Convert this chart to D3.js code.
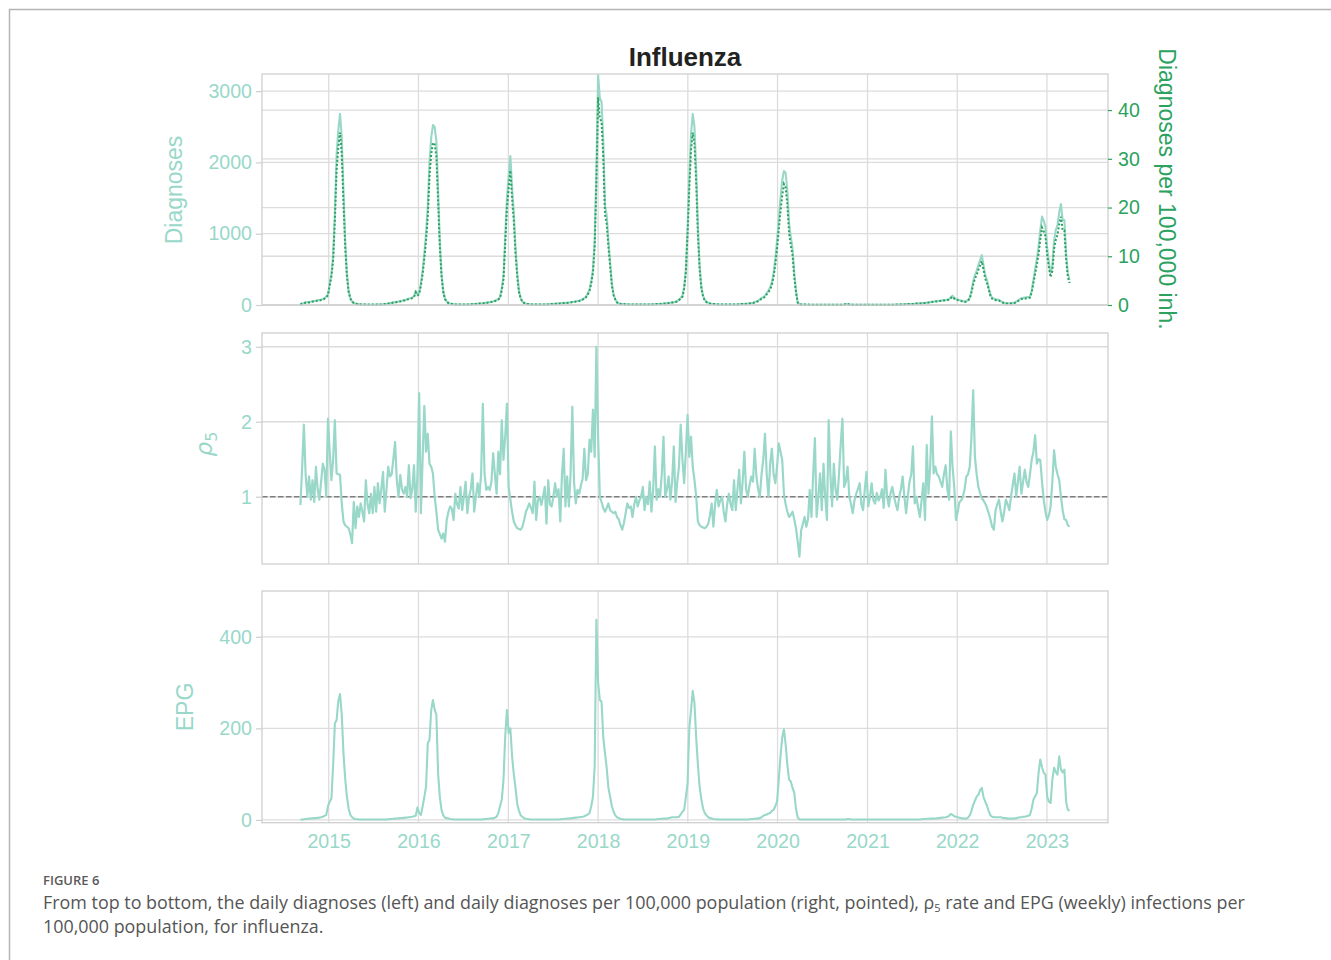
<!DOCTYPE html>
<html>
<head>
<meta charset="utf-8">
<script src="https://cdn.jsdelivr.net/npm/d3@7"></script>
<style>
  body { margin: 0; background: #fff; }
  svg { display: block; }
</style>
</head>
<body>
<div id="chart"></div>
<script>
// weekly series, first point on 2014-09-08
const startDate = new Date(2014, 8, 8);

const diagnoses = [
  10,20,25,35,40,40,45,50,55,60, 65,70,75,80,95,120,150,300,440,700, 1300,2100,2450,2680,2350,1600,900,450,200,100, 50,30,20,15,12,
  8,6,5,5,4,4,4,4,4,5, 5,6,8,10,12,15,20,25,30,35, 40,45,50,55,60,65,70,80,90,95, 105,120,200,150,170,300,480,720,1000,1380, 2000,2350,2524,2500,2300,1610,900,440,200,90, 50,30,20,
  15,12,10,8,7,6,6,6,6,7, 8,10,12,14,16,18,20,22,25,28, 32,36,40,45,50,60,70,85,110,230, 400,950,1500,1800,2090,1650,1300,800,450,200, 100,50,30,20,
  15,12,10,8,7,6,6,6,6,7, 8,9,10,12,14,16,18,20,22,24, 26,28,30,32,35,38,42,46,50,55, 60,70,80,95,120,160,220,330,500,900, 1900,3225,2900,2850,2300,1400,1260,900,600,300, 150,80,40,25,18,14,12,10,9,
  8,7,6,6,5,5,5,5,5,6, 6,7,8,9,10,11,12,14,16,18, 20,22,25,28,32,36,40,45,55,75, 100,130,250,500,1100,1800,2400,2680,2500,1900, 1100,550,260,130,70,45,30,22,18,15, 12,10,9,8,8,
  7,6,6,6,6,6,7,8,9,10, 12,14,16,18,20,24,28,32,40,50, 60,80,100,110,130,170,200,250,320,450, 650,900,1200,1500,1750,1880,1850,1600,1150,950, 800,450,200,40,10,8,6,5,
  4,4,3,3,3,3,3, 3,3,3,3,3,3,3,3,3,3,3,3,3,3,3, 8,15,12,8,5, 4,4,4,4,4,4,4,4,4,4,4,4,4,4,4,4,4,4,4,4,4,4,4,4,4,
  6,7,8,9,10,11,12,13,14,15, 16,18,20,22,24,26,28,30,33,36, 40,44,48,52,56,60,62,65,68,70, 75,85,110,130,100,85,75,70,62,55,
  50,55,70,100,200,330,420,480,560,630, 700,560,420,350,250,150,100,90,80,75, 70,55,40,30,25,25,25,25,30,35, 45,60,80,95,100,105,110,112,117,200,
  350,500,650,818,1050,1240,1180,1100,800,600, 444,550,900,1050,1122,1300,1416,1192,1192,725, 450,350
];

const diagnosesPer100k = [
  0.1,0.3,0.3,0.5,0.5,0.5,0.6,0.7,0.7,0.8, 0.9,0.9,1.0,1.1,1.3,1.6,2.0,4.0,5.8,9.2, 17.2,27.7,32.3,35.4,31.0,21.1,11.9,5.9,2.6,1.3, 0.7,0.4,0.3,0.2,0.2,
  0.1,0.1,0.1,0.1,0.1,0.1,0.1,0.1,0.1,0.1, 0.1,0.1,0.1,0.1,0.2,0.2,0.3,0.3,0.4,0.5, 0.5,0.6,0.7,0.7,0.8,0.9,0.9,1.1,1.2,1.3, 1.4,1.6,2.6,2.0,2.2,4.0,6.3,9.5,13.2,18.2, 26.4,31.0,33.3,33.0,30.4,21.3,11.9,5.8,2.6,1.2, 0.7,0.4,0.3,
  0.2,0.2,0.1,0.1,0.1,0.1,0.1,0.1,0.1,0.1, 0.1,0.1,0.2,0.2,0.2,0.2,0.3,0.3,0.3,0.4, 0.4,0.5,0.5,0.6,0.7,0.8,0.9,1.1,1.5,3.0, 5.3,12.5,19.8,23.8,27.6,21.8,17.2,10.6,5.9,2.6, 1.3,0.7,0.4,0.3,
  0.2,0.2,0.1,0.1,0.1,0.1,0.1,0.1,0.1,0.1, 0.1,0.1,0.1,0.2,0.2,0.2,0.2,0.3,0.3,0.3, 0.3,0.4,0.4,0.4,0.5,0.5,0.6,0.6,0.7,0.7, 0.8,0.9,1.1,1.3,1.6,2.1,2.9,4.4,6.6,11.9, 25.1,42.6,38.3,37.6,30.4,18.5,16.6,11.9,7.9,4.0, 2.0,1.1,0.5,0.3,0.2,0.2,0.2,0.1,0.1,
  0.1,0.1,0.1,0.1,0.1,0.1,0.1,0.1,0.1,0.1, 0.1,0.1,0.1,0.1,0.1,0.1,0.2,0.2,0.2,0.2, 0.3,0.3,0.3,0.4,0.4,0.5,0.5,0.6,0.7, 1.0,1.3,1.7,3.3,6.6,14.5,23.8,31.7,35.4,33.0, 25.1,14.5,7.3,3.4,1.7,0.9,0.6,0.4,0.3,0.2, 0.2,0.2,0.1,0.1,0.1,0.1,
  0.1,0.1,0.1,0.1,0.1,0.1,0.1,0.1,0.1,0.1, 0.2,0.2,0.2,0.2,0.3,0.3,0.4,0.4,0.5,0.6, 0.8,1.0,1.3,1.4,1.7,2.2,2.6,3.2,4.1,5.8, 8.3,11.5,15.4,19.2,22.4,24.8,24.1,20.5,14.7,12.2, 10.2,5.8,2.6,0.5,0.1,0.1,0.1,0.1,
  0.1,0.1,0.05,0.05,0.05,0.05,0.05, 0.05,0.05,0.05,0.05,0.05,0.05,0.05,0.05,0.05,0.05,0.05,0.05,0.05,0.05,0.05, 0.1,0.2,0.2,0.1,0.1,
  0.05,0.05,0.05,0.05,0.05,0.05,0.05,0.05,0.05,0.05,0.05,0.05,0.05,0.05,0.05,0.05,0.05,0.05,0.05,0.05,0.05,0.05,0.05,0.05,0.05,
  0.1,0.1,0.1,0.1,0.1,0.1,0.2,0.2,0.2,0.2, 0.2,0.2,0.3,0.3,0.3,0.3,0.4,0.4,0.4,0.5, 0.5,0.6,0.6,0.7,0.7,0.8,0.8,0.8,0.9,0.9, 1.0,1.1,1.4,1.7,1.3,1.1,1.0,0.9,0.8,0.7,
  0.6,0.7,0.9,1.3,2.6,4.2,5.4,6.1,7.2,8.1, 9.0,7.2,5.4,4.5,3.2,1.9,1.3,1.2,1.0,1.0, 0.9,0.7,0.5,0.4,0.3,0.3,0.3,0.3,0.4,0.4, 0.6,0.8,1.0,1.2,1.3,1.3,1.4,1.4,1.5,2.6,
  4.5,6.4,8.3,10.5,13.4,15.9,15.1,14.1,10.2,7.7, 5.7,7.0,11.5,13.4,14.4,16.6,18.1,15.3,15.3,9.3, 5.8,4.5
];

const rho5 = [
  0.89,1.4,1.96,1.3,1.0,1.27,0.96,1.22,0.93,1.4, 1.1,0.96,1.2,1.44,1.36,1.0,2.04,1.6,1.22,1.5,
  2.02,1.31,1.3,1.29,0.91,0.67,0.62,0.6,0.58,0.5, 0.38,0.93,0.58,0.87,0.73,0.91,0.8,0.67,1.22,0.9,
  0.78,1.04,0.78,1.13,0.8,1.18,0.91,1.1,1.33,0.8, 1.1,1.4,1.27,1.3,1.5,1.73,1.22,1.0,1.29,1.1,
  1.04,1.13,1.0,1.42,0.98,1.1,1.42,0.8,1.3,2.38, 0.78,1.5,2.21,1.6,1.84,1.44,1.4,1.31,1.0,0.8,
  0.56,0.5,0.44,0.51,0.4,0.69,0.8,0.87,0.84,0.69, 1.04,0.9,0.84,1.13,0.82,1.0,1.2,0.78,1.0,1.1,
  1.31,0.8,1.0,1.18,1.0,1.3,2.24,1.3,1.09,1.13, 1.09,1.2,1.58,1.3,1.04,1.6,1.3,2.02,1.49,1.8,
  2.24,1.13,0.96,0.8,0.67,0.62,0.58,0.57,0.56,0.6, 0.69,0.8,0.85,0.91,0.85,0.78,1.2,0.69,0.95,1.0,
  0.89,1.0,1.13,0.64,1.22,0.9,0.87,1.0,1.18,1.0, 1.1,0.67,1.3,1.64,0.87,1.27,0.87,1.3,2.2,1.2,
  0.91,1.09,1.04,1.15,1.24,1.64,1.22,1.3,1.76,1.6, 2.16,1.53,3.0,1.8,1.0,0.93,0.85,0.8,0.85,0.91,
  0.82,0.8,0.78,0.8,0.73,0.7,0.62,0.56,0.65,0.78, 0.91,0.85,0.87,0.73,0.9,1.0,0.87,0.95,1.0,1.13,
  0.82,1.0,0.9,1.2,0.8,1.1,1.67,0.96,1.1,1.0, 1.3,1.8,1.0,1.1,1.27,0.96,1.2,1.67,0.93,1.2,
  1.4,1.96,1.5,1.18,1.6,2.09,1.53,1.8,1.4,1.22, 1.0,0.67,0.62,0.6,0.59,0.58,0.6,0.64,0.75,0.91,
  0.6,0.9,1.09,0.87,0.95,1.0,0.8,0.67,0.9,1.04, 0.9,0.82,1.22,0.82,1.1,1.36,0.91,1.2,1.6,1.1,
  1.0,1.15,1.27,1.2,1.64,1.27,1.1,1.0,1.3,1.5, 1.84,1.3,1.0,1.44,1.64,1.3,1.18,1.4,1.71,1.6,
  1.49,1.04,0.9,0.8,0.73,0.76,0.8,0.7,0.58,0.4, 0.2,0.55,0.64,0.73,0.6,0.7,1.09,0.73,1.3,1.78,
  0.73,1.0,1.31,0.82,1.44,1.0,0.69,2.02,1.3,0.87, 1.44,1.1,0.96,1.3,1.7,2.04,1.13,1.2,1.4,1.0,
  0.9,0.78,0.95,1.04,1.1,1.18,0.9,0.82,1.1,1.33, 0.87,1.0,1.18,0.95,0.91,1.05,0.95,1.0,1.1,0.85,
  1.36,1.0,0.87,1.05,1.13,1.0,0.9,0.82,1.0,1.1, 1.27,1.0,0.78,1.0,1.2,1.3,1.67,0.91,1.0,0.85,
  0.73,0.95,1.18,0.69,1.69,1.04,1.4,2.07,1.31,1.4, 1.3,1.27,1.2,1.13,1.3,1.42,1.1,0.96,1.87,1.4,
  1.13,0.69,0.8,0.93,0.95,1.0,1.1,1.27,1.3,1.4, 1.8,2.42,1.53,1.3,1.13,1.05,0.98,0.95,0.91,0.85,
  0.78,0.7,0.6,0.56,0.82,0.9,0.96,0.8,0.67,0.8, 0.96,0.9,0.82,1.0,1.16,1.31,1.0,1.2,1.4,1.04,
  1.2,1.36,1.2,1.13,1.3,1.49,1.6,1.82,1.44,1.5, 1.49,1.2,0.96,0.8,0.69,0.75,0.87,1.2,1.62,1.4,
  1.3,1.22,1.0,0.82,0.7,0.69,0.62,0.6
];

const epg = [
  0.5,1,1.5,2,2.5,3,3,3.5,4,4, 4.5,5,6,7,9,11,30,40,47,120, 211,218,260,275,230,146,90,51,25,11,
  6,3,2,1.5,1.2,1,1,1,1,1, 1,1,1,1,1,1,1,1,1,1, 1,1.5,2,2,2.5,3,3,3.5,4,4,
  4.5,5,5.5,6,6.5,7,8,9,27,15, 11,30,50,73,168,175,240,262,241,230, 102,50,22,10,5,4,3,2,1.5,1.2,
  1,1,1,1,1,1,1,1,1,1, 1,1,1,1,1,1,1.5,2,2,2.5, 3,3.5,4,5,7,15,30,44,87,182,
  240,190,200,139,100,70,35,20,10,7, 4,2.5,2,1.5,1,1,1,1,1,1, 1,1,1,1,1,1,1,1,1,1,
  1,1.5,2,2,2.5,3,3,3.5,4,4.5, 5,5.5,6,6.5,7,8,10,12,15,30, 51,117,437,300,262,258,180,146,113,70,
  50,30,18,10,6,4,2.5,1.5,1.2,1, 1,1,1,1,1,1,1,1,1,1, 1,1,1,1,1,1,1,1.5,2,2,
  2.5,3,3,3,4,5,6,6,6,6, 7,12,18,22,50,80,200,240,282,255, 180,120,73,45,25,15,10,6,4,3,
  2,1.5,1.5,1,1,1,1,1,1,1, 1,1,1,1,1,1,1,1,1,1, 1,1.5,2,2,2.5,3,3,4,6,9,
  11,12,14,15,20,22,30,40,88,140, 180,198,165,120,88,84,70,59,25,5, 1.5,1,1,1,1,1,1,1,1,1,
  1,1,1,1,1,1,1,1,1,1, 1,1,1,1,1,1,1,1,2,2, 1,1,1,1,1,1,1,1,1,1,
  1,1,1,1,1,1,1,1,1,1, 1,1,1,1,1,1,1,1,1,1, 1,1,1,1,1,1,1,1,1,1,
  1,1.5,2,2,2.5,2.5,3,3,3,3, 3.5,4,4.5,5,5.5,6,7,9,13,11, 8,7,6,5,4,3.5,3,3,5,10,
  20,33,42,51,55,65,70,50,40,31, 20,10,7,6,6,6,6,6,5,4, 4,3,3,3,3,3,4,5,6,6,
  7,7,8,9,11,25,44,52,59,103, 132,115,103,99,51,40,37,88,114,105, 99,139,110,104,110,40,22,20
];

const yearTicks = [2015, 2016, 2017, 2018, 2019, 2020, 2021, 2022, 2023];
const diagTicks = [0, 1000, 2000, 3000];
const rateTicks = [0, 10, 20, 30, 40];
const rhoTicks = [1, 2, 3];
const epgTicks = [0, 200, 400];

const teal = "#99d8c9", green = "#2ca25f", gridColor = "#dcdcdc", spineColor = "#cfcfcf";
const font = "'Liberation Sans', Arial, Helvetica, sans-serif";
const width = 1331, height = 960;
const left = 262, right = 1108;

const svg = d3.select("#chart").append("svg")
    .attr("width", width).attr("height", height)
    .style("font-family", font);

// figure frame (top and left edges)
svg.append("path")
    .attr("d", "M9.5,960V9.5H1331")
    .attr("fill", "none").attr("stroke", "#b4b4b4").attr("stroke-width", 1.5);

const dates = d3.range(diagnoses.length).map(i => d3.timeDay.offset(startDate, 7 * i));
const first = dates[0], last = dates[dates.length - 1];
const pad = (last - first) * 0.05;

const x = d3.scaleTime()
    .domain([new Date(+first - pad), new Date(+last + pad)])
    .range([left, right]);

const yDiag = d3.scaleLinear().domain([0, 3240]).range([305, 74]);
const yRate = d3.scaleLinear().domain([0, 47.4]).range([305, 74]);
const yRho = d3.scaleLinear().domain([0.103, 3.183]).range([564, 333]);
const yEpg = d3.scaleLinear().domain([-6, 500]).range([822.7, 591]);

function styleAxis(g, color, tickColor) {
    g.select(".domain").remove();
    g.selectAll(".tick line").attr("stroke", tickColor).attr("stroke-width", 1.2);
    g.selectAll(".tick text")
        .attr("fill", color)
        .style("font-family", font)
        .style("font-size", "19.6px");
}

function panel(y, ticks, extra) {
    let g = svg.append("g");
    let y0 = y.range()[1], y1 = y.range()[0];

    g.selectAll(".vgrid").data(yearTicks).join("line")
        .attr("x1", d => x(new Date(d, 0, 1))).attr("x2", d => x(new Date(d, 0, 1)))
        .attr("y1", y0).attr("y2", y1)
        .attr("stroke", gridColor).attr("stroke-width", 1.3);

    g.selectAll(".hgrid").data(ticks).join("line")
        .attr("x1", left).attr("x2", right)
        .attr("y1", d => y(d)).attr("y2", d => y(d))
        .attr("stroke", gridColor).attr("stroke-width", 1.3);

    if (extra) {
        g.selectAll(".hgrid2").data(extra.ticks).join("line")
            .attr("x1", left).attr("x2", right)
            .attr("y1", d => extra.y(d)).attr("y2", d => extra.y(d))
            .attr("stroke", gridColor).attr("stroke-width", 1.3);
    }

    let ax = svg.append("g")
        .attr("transform", "translate(" + left + ",0)")
        .call(d3.axisLeft(y).tickValues(ticks).tickSize(6).tickPadding(4).tickFormat(d3.format("d")));
    styleAxis(ax, teal, spineColor);

    return g;
}

function frame(y) {
    svg.append("rect")
        .attr("x", left).attr("y", y.range()[1])
        .attr("width", right - left).attr("height", y.range()[0] - y.range()[1])
        .attr("fill", "none").attr("stroke", spineColor).attr("stroke-width", 1.3);
}

// ---- top panel: daily diagnoses + per 100,000
let gTop = panel(yDiag, diagTicks, {y: yRate, ticks: rateTicks});

gTop.append("path")
    .datum(diagnoses)
    .attr("fill", "none").attr("stroke", teal).attr("stroke-width", 2.1)
    .attr("stroke-linejoin", "round")
    .attr("d", d3.line().x((d, i) => x(dates[i])).y(d => yDiag(d)));

gTop.append("path")
    .datum(diagnosesPer100k)
    .attr("fill", "none").attr("stroke", green).attr("stroke-width", 2)
    .attr("stroke-dasharray", "2,2")
    .attr("d", d3.line().x((d, i) => x(dates[i])).y(d => yRate(d)));

frame(yDiag);

let axRight = svg.append("g")
    .attr("transform", "translate(" + right + ",0)")
    .call(d3.axisRight(yRate).tickValues(rateTicks).tickSize(4).tickPadding(6));
styleAxis(axRight, green, green);

// ---- middle panel: rho5
let gMid = panel(yRho, rhoTicks);

gMid.append("line")
    .attr("x1", left).attr("x2", right)
    .attr("y1", yRho(1)).attr("y2", yRho(1))
    .attr("stroke", "#7f7f7f").attr("stroke-width", 1.5)
    .attr("stroke-dasharray", "5.5,2.5");

gMid.append("path")
    .datum(rho5)
    .attr("fill", "none").attr("stroke", teal).attr("stroke-width", 2.2)
    .attr("stroke-linejoin", "round")
    .attr("d", d3.line().x((d, i) => x(dates[i])).y(d => yRho(d)));

frame(yRho);

// ---- bottom panel: EPG
let gBot = panel(yEpg, epgTicks);

gBot.append("path")
    .datum(epg)
    .attr("fill", "none").attr("stroke", teal).attr("stroke-width", 2.1)
    .attr("stroke-linejoin", "round")
    .attr("d", d3.line().x((d, i) => x(dates[i])).y(d => yEpg(d)));

frame(yEpg);

let axBottom = svg.append("g")
    .attr("transform", "translate(0," + yEpg.range()[0] + ")")
    .call(d3.axisBottom(x).tickValues(yearTicks.map(yr => new Date(yr, 0, 1)))
        .tickSize(0).tickPadding(11).tickFormat(d3.timeFormat("%Y")));
styleAxis(axBottom, teal, spineColor);

// ---- titles and axis labels
svg.append("text")
    .attr("x", (left + right) / 2).attr("y", 66)
    .attr("text-anchor", "middle")
    .style("font-size", "26px").style("font-weight", "bold").style("fill", "#222")
    .text("Influenza");

svg.append("text")
    .attr("transform", "translate(182,190) rotate(-90)")
    .attr("text-anchor", "middle")
    .style("font-size", "23px").style("fill", teal)
    .text("Diagnoses");

svg.append("text")
    .attr("transform", "translate(1159,189) rotate(90)")
    .attr("text-anchor", "middle")
    .style("font-size", "23px").style("fill", green)
    .text("Diagnoses per 100,000 inh.");

let rhoLabel = svg.append("text")
    .attr("transform", "translate(212,444) rotate(-90)")
    .attr("text-anchor", "middle")
    .style("fill", teal);
rhoLabel.append("tspan")
    .style("font-family", "'DejaVu Sans', sans-serif").style("font-style", "italic").style("font-size", "23px")
    .text("ρ");
rhoLabel.append("tspan")
    .attr("dy", 5)
    .style("font-family", "'DejaVu Sans', sans-serif").style("font-size", "16px")
    .text("5");

svg.append("text")
    .attr("transform", "translate(193,707) rotate(-90)")
    .attr("text-anchor", "middle")
    .style("font-size", "23px").style("fill", teal)
    .text("EPG");

// ---- caption
const capFont = "'Open Sans', 'Noto Sans', sans-serif";

svg.append("text")
    .attr("x", 43).attr("y", 885)
    .style("font-family", capFont).style("font-size", "13px").style("font-weight", 600)
    .style("fill", "#5a5a5a")
    .text("FIGURE 6");

let cap1 = svg.append("text")
    .attr("x", 43).attr("y", 909)
    .style("font-family", capFont).style("font-size", "17.9px").style("fill", "#555");
cap1.append("tspan").text("From top to bottom, the daily diagnoses (left) and daily diagnoses per 100,000 population (right, pointed), ρ");
cap1.append("tspan").attr("dy", 3).style("font-size", "11px").text("5");
cap1.append("tspan").attr("dy", -3).text(" rate and EPG (weekly) infections per");

svg.append("text")
    .attr("x", 43).attr("y", 933)
    .style("font-family", capFont).style("font-size", "17.9px").style("fill", "#555")
    .text("100,000 population, for influenza.");
</script>
</body>
</html>
